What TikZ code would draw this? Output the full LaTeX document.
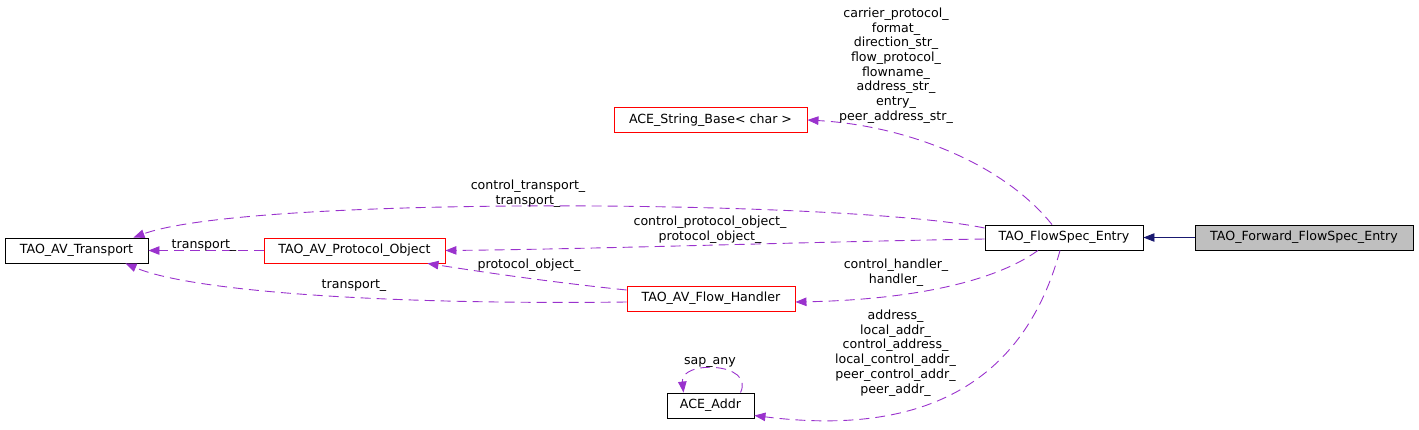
\documentclass[tikz,border=0pt]{standalone}
\usepackage{fontspec}
\setmainfont{DejaVu Sans}
\usetikzlibrary{arrows.meta}
\definecolor{edgepurple}{HTML}{9A32CD}
\definecolor{navyedge}{HTML}{191970}
\definecolor{fillgray}{HTML}{BFBFBF}
\begin{document}
\begin{tikzpicture}[x=1pt,y=-1pt,
  txt/.style={font=\fontsize{12.6}{14.7}\selectfont},
  box/.style={txt,draw=black,line width=0.9pt,minimum height=25pt,inner sep=0pt},
  redbox/.style={box,draw=red},
  lbl/.style={txt,align=center,inner sep=0pt},
  dep/.style={draw=edgepurple,line width=0.9pt,dash pattern=on 10pt off 6pt,
    -{Triangle[length=11pt,width=8.5pt]},fill=none},
  inh/.style={draw=navyedge,line width=0.9pt,-{Triangle[length=11pt,width=8.5pt]}}]
\useasboundingbox (0,0) rectangle (1419,429);
% nodes
\node[box,minimum width=143pt] (transport) at (76.5,250.5) {TAO\_AV\_Transport};
\node[redbox,minimum width=181pt] (protocol) at (354.5,250.5) {TAO\_AV\_Protocol\_Object};
\node[redbox,minimum width=193pt] (strbase) at (710.5,120) {ACE\_String\_Base< char >};
\node[box,minimum width=158pt] (entry) at (1064,237.5) {TAO\_FlowSpec\_Entry};
\node[box,fill=fillgray,minimum width=218pt] (fwd) at (1304,237.5) {TAO\_Forward\_FlowSpec\_Entry};
\node[redbox,minimum width=168pt] (handler) at (711,298.5) {TAO\_AV\_Flow\_Handler};
\node[box,minimum width=87pt] (addr) at (710.5,405.5) {ACE\_Addr};
% edges
\draw[inh] (fwd.west) -- (entry.east);
\draw[dep] ([xshift=-12pt]entry.north) .. controls (1000,160) and (900,125) .. (strbase.east);
\draw[dep] ([yshift=9.5pt]entry.west) .. controls (850,200) and (250,195) .. ([xshift=-15pt]transport.north east);
\draw[dep] ([yshift=-1.5pt]entry.west) .. controls (800,242) and (600,249) .. (protocol.east);
\draw[dep] (protocol.west) -- (transport.east);
\draw[dep] ([yshift=8.5pt]handler.west) .. controls (540,281) and (470,270) .. ([xshift=-18pt]protocol.south east);
\draw[dep] ([yshift=-3.5pt]handler.west) .. controls (380,305) and (190,291) .. ([xshift=-23pt]transport.south east);
\draw[dep] ([xshift=-26pt]entry.south) .. controls (990,285) and (900,300) .. ([yshift=-3.5pt]handler.east);
\draw[dep] ([xshift=-4pt]entry.south) .. controls (1030,360) and (950,440) .. ([yshift=-10pt]addr.east);
\draw[dep] ([xshift=30pt]addr.north) .. controls (755,362) and (680,360) .. ([xshift=-27pt]addr.north);
% labels
\node[lbl] (lstr) at (896,65.5) {carrier\_protocol\_\\format\_\\direction\_str\_\\flow\_protocol\_\\flowname\_\\address\_str\_\\entry\_\\peer\_address\_str\_};
\node[lbl] (lctr) at (528,193.5) {control\_transport\_\\transport\_};
\node[lbl] (lcpo) at (710,230) {control\_protocol\_object\_\\protocol\_object\_};
\node[lbl] (ltr1) at (204,245.5) {transport\_};
\node[lbl] (lpo) at (529,265.5) {protocol\_object\_};
\node[lbl] (ltr2) at (354,285.5) {transport\_};
\node[lbl] (lhnd) at (896,273) {control\_handler\_\\handler\_};
\node[lbl] (laddr) at (895.5,353) {address\_\\local\_addr\_\\control\_address\_\\local\_control\_addr\_\\peer\_control\_addr\_\\peer\_addr\_};
\node[lbl] (lsap) at (710,362.5) {sap\_any};
\end{tikzpicture}
\end{document}
